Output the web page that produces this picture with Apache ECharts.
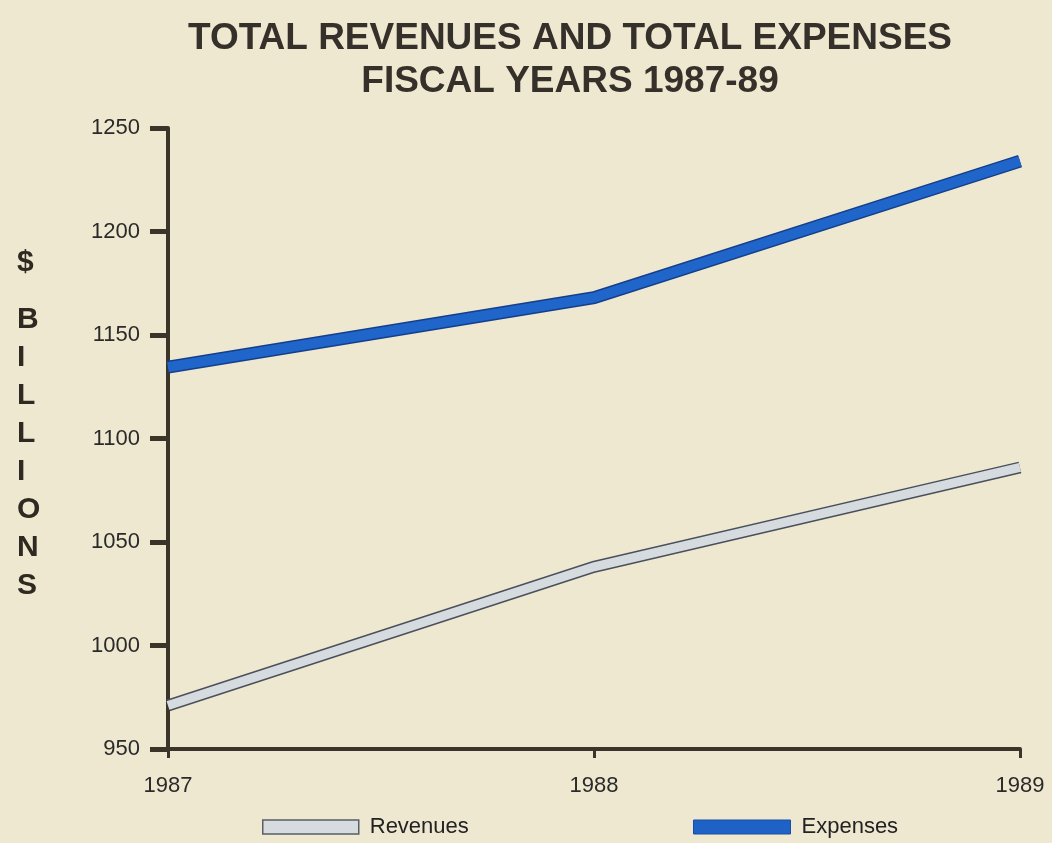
<!DOCTYPE html>
<html>
<head>
<meta charset="utf-8">
<script src="https://cdn.jsdelivr.net/npm/echarts@6/dist/echarts.min.js"></script>
<style>
html,body{margin:0;padding:0;background:#eee8d0;}
#chart{width:1052px;height:843px;}
</style>
</head>
<body>
<div id="chart"></div>
<script>
const years = ['1987', '1988', '1989'];
const revenues = [971, 1038, 1086];
const expenses = [1134.5, 1168, 1234];
const yTicks = { min: 950, max: 1250, interval: 50 };

const chart = echarts.init(document.getElementById('chart'), null, { renderer: 'canvas' });
const font = 'Liberation Sans, Arial, Helvetica, sans-serif';
const axisColor = '#3b3429';

chart.setOption({
  backgroundColor: '#eee8d0',
  animation: false,
  title: {
    text: 'TOTAL REVENUES AND TOTAL EXPENSES\nFISCAL YEARS 1987-89',
    left: 565,
    top: 12,
    textAlign: 'center',
    textStyle: { fontFamily: font, fontSize: 37, fontWeight: 'bold', color: '#35302a', lineHeight: 43 }
  },
  graphic: [
    { type: 'text', left: 17, top: 248, style: { text: '$', fontFamily: font, fontSize: 30, fontWeight: 'bold', fill: '#2e2a22' } },
    { type: 'text', left: 17, top: 301, style: { text: 'B\nI\nL\nL\nI\nO\nN\nS', fontFamily: font, fontSize: 30, fontWeight: 'bold', fill: '#2e2a22', lineHeight: 38, align: 'center', x: 12 } }
  ],
  legend: [
    {
      left: 262, top: 816, padding: 0, itemWidth: 96, itemHeight: 14, itemGap: 10,
      textStyle: { fontFamily: font, fontSize: 22, color: '#222', padding: [0, 0, 0, 6] },
      data: [{ name: 'Revenues', icon: 'rect', itemStyle: { color: '#d6dbe0', borderColor: '#5a5e66', borderWidth: 1.5 } }]
    },
    {
      left: 693, top: 816, padding: 0, itemWidth: 97, itemHeight: 14, itemGap: 10,
      textStyle: { fontFamily: font, fontSize: 22, color: '#222', padding: [0, 0, 0, 6] },
      data: [{ name: 'Expenses', icon: 'rect', itemStyle: { color: '#1f62c6', borderColor: '#174fa6', borderWidth: 1 } }]
    }
  ],
  grid: { left: 168, right: 32, top: 128, bottom: 94, containLabel: false },
  xAxis: {
    type: 'category',
    data: years,
    boundaryGap: false,
    axisLine: { lineStyle: { color: axisColor, width: 4 } },
    axisTick: { show: true, length: 9, lineStyle: { color: axisColor, width: 3 } },
    axisLabel: { margin: 26, fontFamily: font, fontSize: 22, color: '#2a2a2a' },
    splitLine: { show: false }
  },
  yAxis: {
    type: 'value',
    min: yTicks.min, max: yTicks.max, interval: yTicks.interval,
    axisLine: { show: true, lineStyle: { color: axisColor, width: 4 } },
    axisTick: { show: true, length: 18, lineStyle: { color: axisColor, width: 5 } },
    axisLabel: { margin: 28, fontFamily: font, fontSize: 22, color: '#2a2a2a', formatter: v => String(v) },
    splitLine: { show: false }
  },
  series: [
    { name: 'RevEdge', type: 'line', data: revenues, showSymbol: false, z: 2, silent: true,
      lineStyle: { color: '#4a505a', width: 12, cap: 'butt', join: 'miter' } },
    { name: 'Revenues', type: 'line', data: revenues, showSymbol: false, z: 3,
      itemStyle: { color: '#d6dbe0' },
      lineStyle: { color: '#d6dbe0', width: 9, cap: 'butt', join: 'miter' } },
    { name: 'ExpEdge', type: 'line', data: expenses, showSymbol: false, z: 2, silent: true,
      lineStyle: { color: '#143f8c', width: 13, cap: 'butt', join: 'miter' } },
    { name: 'Expenses', type: 'line', data: expenses, showSymbol: false, z: 3,
      itemStyle: { color: '#1f62c6' },
      lineStyle: { color: '#2065c9', width: 10, cap: 'butt', join: 'miter' } }
  ]
});
</script>
</body>
</html>
